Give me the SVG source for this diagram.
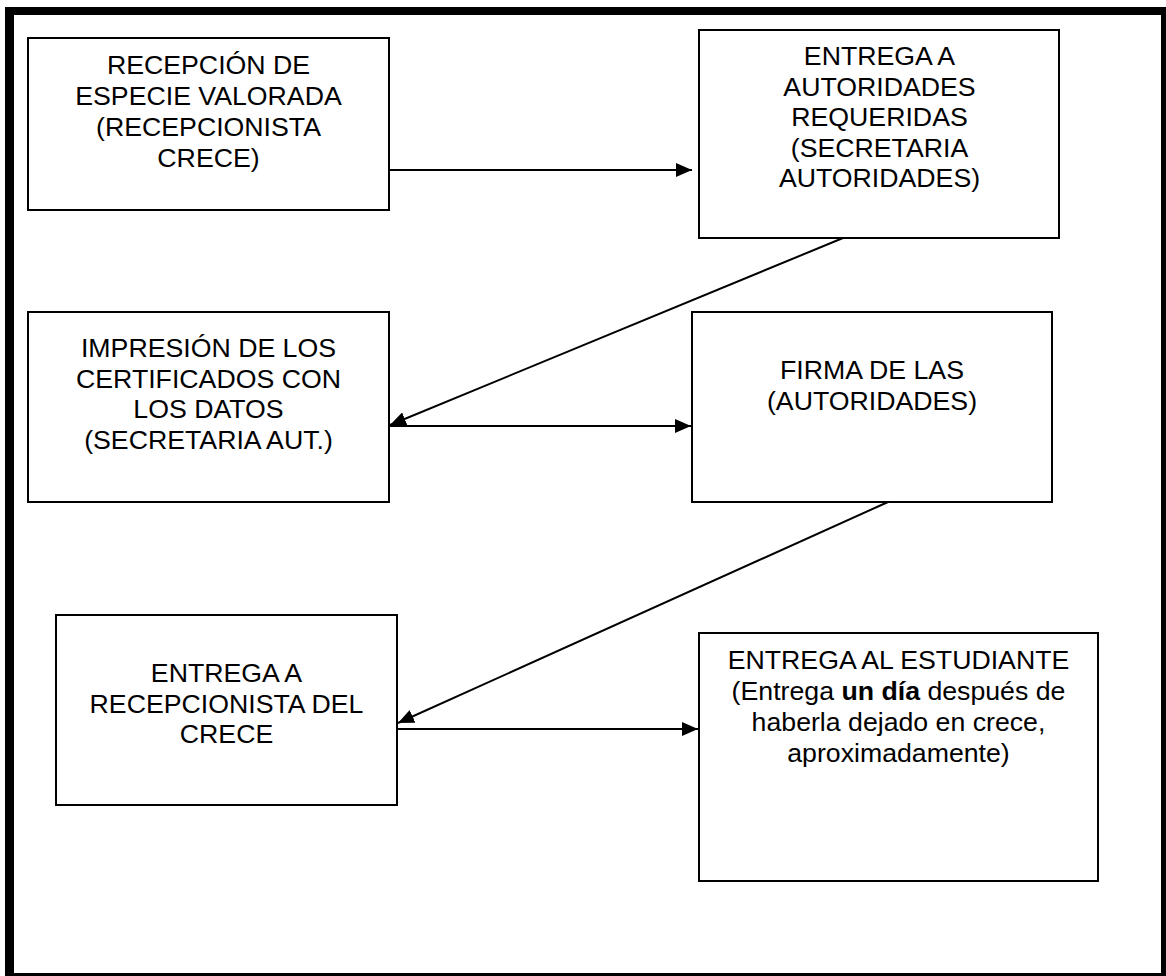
<svg xmlns="http://www.w3.org/2000/svg" width="1166" height="976" viewBox="0 0 1166 976">
<style>
.box{fill:#fff;stroke:#000;stroke-width:2}
.t{font-family:"Liberation Sans",Arial,sans-serif;font-size:26.7px;fill:#000;text-anchor:middle}
.b{font-weight:bold}
.c{stroke:#000;stroke-width:2;fill:none;marker-end:url(#ah)}
</style>
<defs>
<marker id="ah" markerUnits="userSpaceOnUse" markerWidth="16" markerHeight="14" refX="16" refY="7" orient="auto">
<path d="M0,0 L16,7 L0,14 Z" fill="#000"/>
</marker>
</defs>
<rect width="1166" height="976" fill="#fff"/>
<path d="M5,7 H1166 V976 H5 Z M14,15 V973 H1161 V15 Z" fill="#000" fill-rule="evenodd"/>
<g id="n1">
<rect class="box" x="28" y="38" width="361" height="172"/>
<text class="t"><tspan x="208.5" y="74">RECEPCIÓN DE</tspan><tspan x="208.5" y="105">ESPECIE VALORADA</tspan><tspan x="208.5" y="136">(RECEPCIONISTA</tspan><tspan x="208.5" y="167">CRECE)</tspan></text>
</g>
<g id="n2">
<rect class="box" x="699" y="30" width="360" height="208"/>
<text class="t"><tspan x="879.5" y="65">ENTREGA A</tspan><tspan x="879.5" y="95.5">AUTORIDADES</tspan><tspan x="879.5" y="126">REQUERIDAS</tspan><tspan x="879.5" y="156.5">(SECRETARIA</tspan><tspan x="879.5" y="187">AUTORIDADES)</tspan></text>
</g>
<g id="n3">
<rect class="box" x="28" y="312" width="361" height="190"/>
<text class="t"><tspan x="208.5" y="357">IMPRESIÓN DE LOS</tspan><tspan x="208.5" y="387.5">CERTIFICADOS CON</tspan><tspan x="208.5" y="418">LOS DATOS</tspan><tspan x="208.5" y="448.5">(SECRETARIA AUT.)</tspan></text>
</g>
<g id="n4">
<rect class="box" x="692" y="312" width="360" height="190"/>
<text class="t"><tspan x="872" y="379">FIRMA DE LAS</tspan><tspan x="872" y="409.5">(AUTORIDADES)</tspan></text>
</g>
<g id="n5">
<rect class="box" x="56" y="615" width="341" height="190"/>
<text class="t"><tspan x="226.5" y="682">ENTREGA A</tspan><tspan x="226.5" y="712.5">RECEPCIONISTA DEL</tspan><tspan x="226.5" y="743">CRECE</tspan></text>
</g>
<g id="n6">
<rect class="box" x="699" y="633" width="399" height="248"/>
<text class="t"><tspan x="898.5" y="669">ENTREGA AL ESTUDIANTE</tspan><tspan x="898.5" y="700">(Entrega <tspan class="b">un día</tspan> después de</tspan><tspan x="898.5" y="731">haberla dejado en crece,</tspan><tspan x="898.5" y="762">aproximadamente)</tspan></text>
</g>
<g id="connectors">
<line class="c" x1="389" y1="170" x2="692" y2="170"/>
<line class="c" x1="843" y1="238" x2="390" y2="425"/>
<line class="c" x1="389" y1="426" x2="691" y2="426"/>
<line class="c" x1="888" y1="502" x2="398" y2="723"/>
<line class="c" x1="397" y1="729" x2="698" y2="729"/>
</g>
</svg>
